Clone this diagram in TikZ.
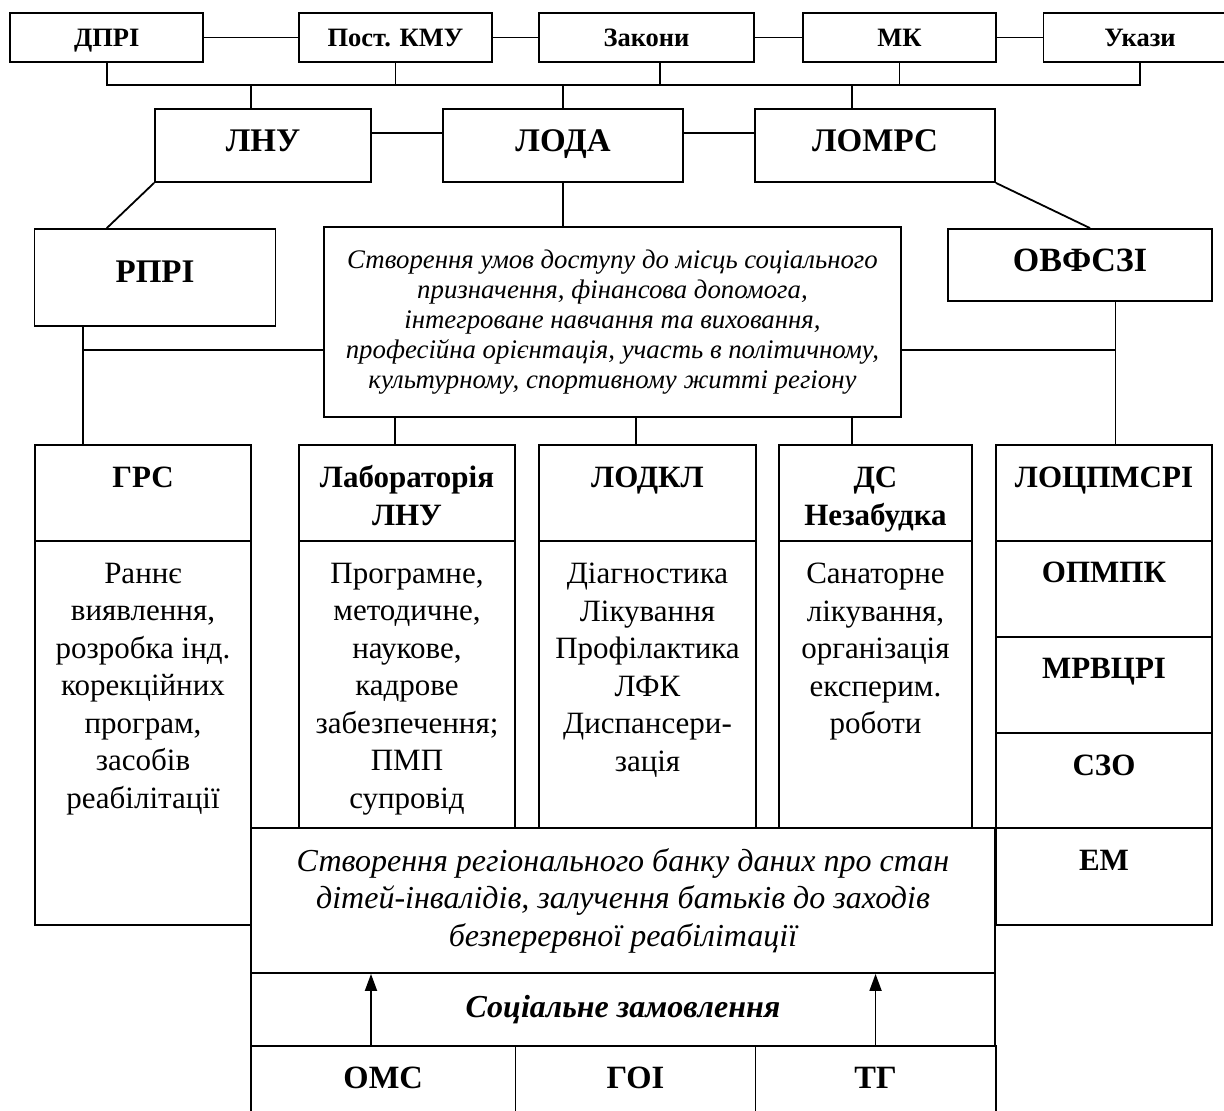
\documentclass[tikz,border=0pt]{standalone}
\usepackage{fontspec}
\setmainfont{Liberation Serif}
\usepackage{tikz}
\usetikzlibrary{positioning, calc, arrows.meta}

\begin{document}
\begin{tikzpicture}[
        x=1pt, y=-1pt,
        line width=1.8pt,
        every node/.style={inner sep=0pt, text centered},
        cell/.style={draw, rectangle, line width=1.8pt},
        toplbl/.style={cell, minimum width=193pt, minimum height=49pt, text height=20pt, text depth=2pt, font=\fontsize{26.5}{31}\selectfont\bfseries},
        midlbl/.style={cell, minimum height=73pt, text height=25pt, text depth=12.5pt, font=\fontsize{33}{39}\selectfont\bfseries},
        botlbl/.style={cell, minimum height=80pt, text height=24.5pt, text depth=19.5pt, font=\fontsize{32.5}{38}\selectfont\bfseries},
        hdr/.style={align=center, font=\fontsize{31}{38.3}\selectfont\bfseries},
        body/.style={align=center, font=\fontsize{31}{37.5}\selectfont},
        notetext/.style={align=center, font=\fontsize{26.8}{30}\selectfont\itshape},
        uparrow/.style={-{Triangle[length=17pt, width=12pt]}, line width=1.8pt}
    ]
        \useasboundingbox (0,0) rectangle (1224,1111);

        % Top row
        \node[toplbl] (dpri) at (106.8,37.5) {ДПРІ};
        \node[toplbl] (postkmu) at (395.5,37.5) {Пост. КМУ};
        \node[toplbl, minimum width=215pt] (zakony) at (646.5,37.5) {Закони};
        \node[toplbl] (mk) at (899.5,37.5) {МК};
        \node[toplbl] (ukazy) at (1140,37.5) {Укази};

        \draw (dpri) -- (postkmu);
        \draw (postkmu) -- (zakony);
        \draw (zakony) -- (mk);
        \draw (mk) -- (ukazy);

        % Bus under the top row
        \coordinate (bus) at (0,85);
        \coordinate (zdrop) at (660,0);
        \draw (dpri.south) |- (ukazy.south |- bus) -- (ukazy.south);
        \draw (postkmu.south) -- (postkmu.south |- bus);
        \draw (zakony.south -| zdrop) -- (zdrop |- bus);
        \draw (mk.south) -- (mk.south |- bus);

        % Second row
        \node[midlbl, minimum width=216pt] (lnu) at (263,145.5) {ЛНУ};
        \node[midlbl, minimum width=240pt] (loda) at (563,145.5) {ЛОДА};
        \node[midlbl, minimum width=240pt] (lomrs) at (875,145.5) {ЛОМРС};

        \coordinate (lnudrop) at (251,0);
        \coordinate (lomrsdrop) at (852,0);
        \draw (lnudrop |- bus) -- (lnu.north -| lnudrop);
        \draw (loda.north |- bus) -- (loda.north);
        \draw (lomrsdrop |- bus) -- (lomrs.north -| lomrsdrop);

        \coordinate (row2) at (0,133);
        \draw (lnu.east |- row2) -- (loda.west |- row2);
        \draw (loda.east |- row2) -- (lomrs.west |- row2);

        % Third row
        \node[midlbl, minimum width=241pt, minimum height=97pt, text depth=16pt] (rpri) at (155,277.5) {РПРІ};
        \node[cell, notetext, minimum width=577pt, minimum height=190pt] (access) at (612.5,322)
            {Створення умов доступу до місць соціального\\призначення, фінансова допомога,\\інтегроване навчання та виховання,\\професійна орієнтація, участь в політичному,\\культурному, спортивному житті регіону};
        \node[midlbl, minimum width=264pt, minimum height=72pt, font=\fontsize{34}{40}\selectfont\bfseries] (ovfszi) at (1080,265) {ОВФСЗІ};

        \draw (lnu.south west) -- (rpri.north -| dpri.south);
        \draw (loda.south) -- (loda.south |- access.north);
        \draw (lomrs.south east) -- ($(ovfszi.north)+(10,0)$);

        % Fourth row: headers
        \node[cell, minimum width=216pt, minimum height=96pt] (grs) at (143,493) {};
        \node[cell, minimum width=216pt, minimum height=96pt] (lab) at (407,493) {};
        \node[cell, minimum width=217pt, minimum height=96pt] (lodkl) at (647.5,493) {};
        \node[cell, minimum width=193pt, minimum height=96pt] (ds) at (875.5,493) {};
        \node[cell, minimum width=216.5pt, minimum height=96pt] (locp) at (1104,493) {};

        \node[hdr, below=22pt of grs.north] (grs-t) {ГРС};
        \node[hdr, below=20pt of lab.north] (lab-t) {Лабораторія\\ЛНУ};
        \node[hdr, below=22pt of lodkl.north] (lodkl-t) {ЛОДКЛ};
        \node[hdr, below=22pt of ds.north] (ds-t) {ДС\\Незабудка};
        \node[hdr, below=22pt of locp.north] (locp-t) {ЛОЦПМСРІ};

        % Fourth row: bodies
        \node[cell, minimum width=216pt, minimum height=384pt] (grsb) at (143,733) {};
        \node[cell, minimum width=216pt, minimum height=287pt] (labb) at (407,684.5) {};
        \node[cell, minimum width=217pt, minimum height=287pt] (lodklb) at (647.5,684.5) {};
        \node[cell, minimum width=193pt, minimum height=287pt] (dsb) at (875.5,684.5) {};

        \node[body, below=22pt of grsb.north] (grsb-t) {Раннє\\виявлення,\\розробка інд.\\корекційних\\програм,\\засобів\\реабілітації};
        \node[body, below=22pt of labb.north] (labb-t) {Програмне,\\методичне,\\наукове,\\кадрове\\забезпечення;\\ПМП\\супровід};
        \node[body, below=22pt of lodklb.north] (lodklb-t) {Діагностика\\Лікування\\Профілактика\\ЛФК\\Диспансери-\\зація};
        \node[body, below=22pt of dsb.north] (dsb-t) {Санаторне\\лікування,\\організація\\експерим.\\роботи};

        % Right column
        \node[cell, minimum width=216.5pt, minimum height=96pt] (opmpk) at (1104,589) {};
        \node[cell, minimum width=216.5pt, minimum height=96pt] (mrvcri) at (1104,685) {};
        \node[cell, minimum width=216.5pt, minimum height=95pt] (szo) at (1104,780.5) {};
        \node[cell, minimum width=216.5pt, minimum height=97pt] (em) at (1104,876.5) {};

        \node[hdr, below=21pt of opmpk.north] (opmpk-t) {ОПМПК};
        \node[hdr, below=21pt of mrvcri.north] (mrvcri-t) {МРВЦРІ};
        \node[hdr, below=22pt of szo.north] (szo-t) {СЗО};
        \node[hdr, below=22pt of em.north] (em-t) {ЕМ};

        % Links from the third row
        \coordinate (row3) at (0,350);
        \coordinate (leftdrop) at (83,0);
        \coordinate (rightdrop) at (1115.5,0);
        \draw (rpri.south -| leftdrop) -- (grs.north -| leftdrop);
        \draw (leftdrop |- row3) -- (access.west |- row3);
        \draw (ovfszi.south -| rightdrop) -- (locp.north -| rightdrop);
        \draw (access.east |- row3) -- (rightdrop |- row3);
        \foreach \x/\n in {395/lab, 636/lodkl, 851.6/ds}
            \draw (access.south -| \x,0) -- (\n.north -| \x,0);

        % Bottom block
        \node[cell, align=center, font=\fontsize{32}{37.5}\selectfont\itshape, minimum width=744pt, minimum height=145pt] (bank) at (623,900.5)
            {Створення регіонального банку даних про стан\\дітей-інвалідів, залучення батьків до заходів\\безперервної реабілітації};
        \node[cell, font=\fontsize{32}{37}\selectfont\bfseries\itshape, minimum width=744pt, minimum height=73pt] (order) at (623,1009.5) {Соціальне замовлення};

        \node[botlbl, minimum width=264.4pt] (oms) at (383.2,1086) {ОМС};
        \node[botlbl, minimum width=240pt] (goi) at (635.4,1086) {ГОІ};
        \node[botlbl, minimum width=240.3pt] (tg) at (875.55,1086) {ТГ};

        % Arrows
        \coordinate (leftarrow) at (371,0);
        \draw[uparrow] (oms.north -| leftarrow) -- (bank.south -| leftarrow);
        \draw[uparrow] (tg.north) -- (tg.north |- bank.south);
    \end{tikzpicture}
\end{document}
